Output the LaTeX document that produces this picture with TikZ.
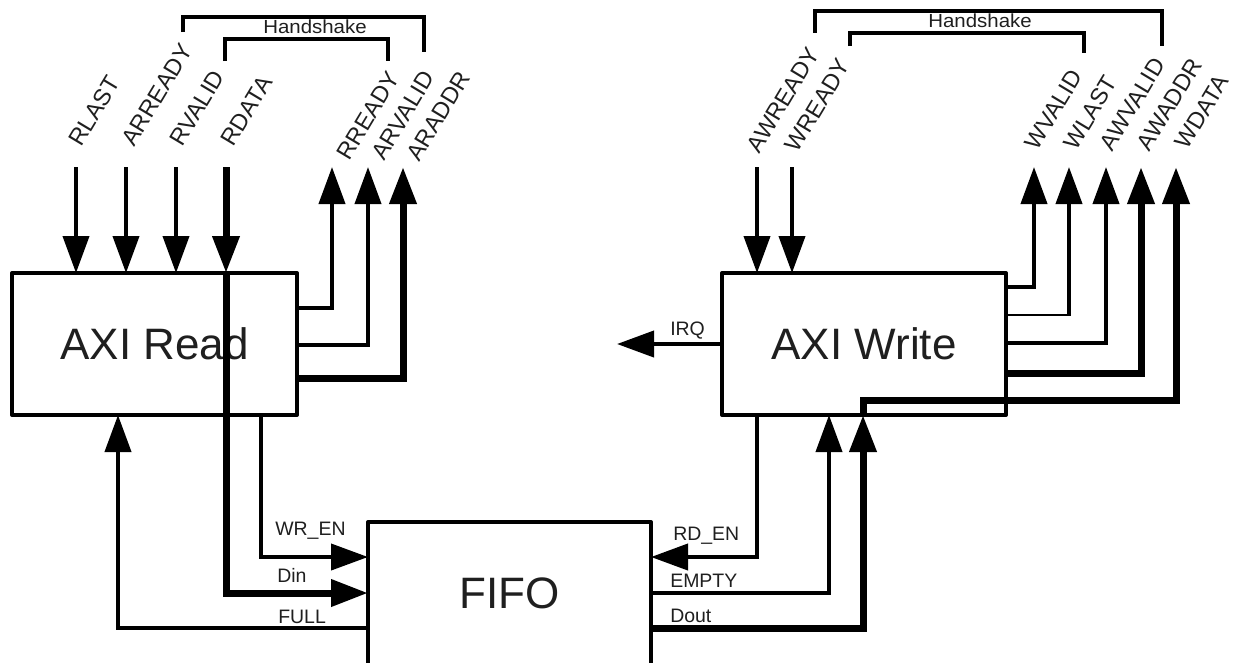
\documentclass[tikz,border=0pt]{standalone}
\usepackage{fontspec}
\setmainfont{Liberation Sans}
\usetikzlibrary{arrows.meta,calc}
\begin{document}
\begin{tikzpicture}[x=0.75pt,y=-0.75pt,
  tip/.tip={Triangle[length=27.75pt,width=19.5pt]},
  sig/.style={line width=3pt,-tip},
  thk/.style={line width=5.25pt,-tip},
  brk/.style={line width=3pt,line join=miter},
  blk/.style={draw,line width=3pt,line join=round,inner sep=0pt,outer sep=0pt,
     minimum height=106.5pt,text=black!88,font=\fontsize{33}{36}\selectfont},
  rot/.style={rotate=59,anchor=south west,inner sep=0pt,text=black!88,
     font=\fontsize{17.6}{19}\selectfont},
  lbl/.style={anchor=base west,inner sep=0pt,text=black!88,
     font=\fontsize{14.6}{16}\selectfont},
  hs/.style={anchor=base,inner sep=0pt,text=black!88,xscale=1.08,
     font=\fontsize{14.2}{15}\selectfont}]
\useasboundingbox (0,0) rectangle (1237,662);

% blocks
\node[blk,minimum width=213.75pt] (readr) at (154.5,344) {AXI Read};
\node[blk,minimum width=213pt] (writer) at (864,344) {AXI Write};
\node[blk,draw=none,minimum width=212.25pt] (fifo) at (509.5,593) {FIFO};
\draw[line width=3pt,line join=round] (fifo.south west) -- (fifo.north west) -- (fifo.north east) -- (fifo.south east);

% free ends
\coordinate (rlast) at (76,167);
\coordinate (arready) at (126,167);
\coordinate (rvalid) at (176,167);
\coordinate (rdata) at (226,167);
\coordinate (rready) at (332,167);
\coordinate (arvalid) at (368,167);
\coordinate (araddr) at (403,167);
\coordinate (awready) at (757,167);
\coordinate (wready) at (792,167);
\coordinate (wvalid) at (1034,167);
\coordinate (wlast) at (1069,167);
\coordinate (awvalid) at (1106,167);
\coordinate (awaddr) at (1141,167);
\coordinate (wdata) at (1176,167);
\coordinate (irq) at (617,344);
\coordinate (xfull) at (118,0);
\coordinate (xwr) at (261,0);
\coordinate (xrd) at (757,0);
\coordinate (xempty) at (829,0);
\coordinate (xdout) at (863,0);

% AXI Read inputs
\draw[sig] (rlast) -- (rlast |- readr.north);
\draw[sig] (arready) -- (arready |- readr.north);
\draw[sig] (rvalid) -- (rvalid |- readr.north);
\draw[thk] (rdata) -- (rdata |- readr.north);
\draw[thk] (rdata |- readr.north) -- (rdata |- fifo.west) -- (fifo.west);

% AXI Read outputs
\draw[sig] ($(readr.north east)+(0,35)$) -| (rready);
\draw[sig] ($(readr.north east)+(0,72)$) -| (arvalid);
\draw[thk] ($(readr.north east)+(0,105)$) -| (araddr);

% FIFO left side
\draw[sig] (xwr |- readr.south) |- ($(fifo.north west)+(0,35)$);
\draw[sig] ($(fifo.north west)+(0,106)$) -| (xfull |- readr.south);

% AXI Write inputs
\draw[sig] (awready) -- (awready |- writer.north);
\draw[sig] (wready) -- (wready |- writer.north);
\draw[sig] (writer.west) -- (irq);

% AXI Write outputs
\draw[sig] ($(writer.north east)+(0,14)$) -| (wvalid);
\draw[line width=1.8pt] ($(writer.north east)+(0,42)$) -- ($(wlast |- writer.north)+(0,42)$);
\draw[sig] ($(wlast |- writer.north)+(0,42.6)$) -- (wlast);
\draw[sig] ($(writer.north east)+(0,70)$) -| (awvalid);
\draw[thk] ($(writer.north east)+(0,100)$) -| (awaddr);

% FIFO right side
\draw[sig] (xrd |- writer.south) |- ($(fifo.north east)+(0,35)$);
\draw[sig] (fifo.east) -| (xempty |- writer.south);
\draw[thk] ($(fifo.north east)+(0,106)$) -| (xdout |- writer.south);
\draw[thk] (xdout |- writer.south) -- ($(xdout |- writer.north)+(0,127)$) -| (wdata);

% handshake brackets
\draw[brk] (183,32) -- (183,17) -- (424,17) -- (424,52);
\draw[brk] (225,61) -- (225,39) -- (388,39) -- (388,61);
\node[hs] (hs1) at (315,33) {Handshake};
\draw[brk] (815,32.5) -- (815,11) -- (1162,11) -- (1162,46);
\draw[brk] (850,46) -- (850,32.5) -- (1084,32.5) -- (1084,53);
\node[hs] (hs2) at (980,27) {Handshake};

% rotated signal labels
\node[rot] (lrlast) at (82,148) {RLAST};
\node[rot] (larready) at (135,148) {ARREADY};
\node[rot] (lrvalid) at (183,148) {RVALID};
\node[rot] (lrdata) at (234,148) {RDATA};
\node[rot] (lrready) at (350,162) {RREADY};
\node[rot] (larvalid) at (385,162) {ARVALID};
\node[rot] (laraddr) at (420,163) {ARADDR};
\node[rot] (lawready) at (760,155) {AWREADY};
\node[rot] (lwready) at (798,154) {WREADY};
\node[rot] (lwvalid) at (1038,152) {WVALID};
\node[rot] (lwlast) at (1077,152) {WLAST};
\node[rot] (lawvalid) at (1113,153) {AWVALID};
\node[rot] (lawaddr) at (1150,153) {AWADDR};
\node[rot] (lwdata) at (1188,151) {WDATA};

% horizontal signal labels
\node[lbl] (lwren) at (275,535) {WR\_EN};
\node[lbl] (ldin) at (277,582) {Din};
\node[lbl] (lfull) at (278,623) {FULL};
\node[lbl] (lrden) at (673,540) {RD\_EN};
\node[lbl] (lempty) at (670,587) {EMPTY};
\node[lbl] (ldout) at (670,622) {Dout};
\node[lbl] (lirq) at (670,335) {IRQ};
\end{tikzpicture}
\end{document}
